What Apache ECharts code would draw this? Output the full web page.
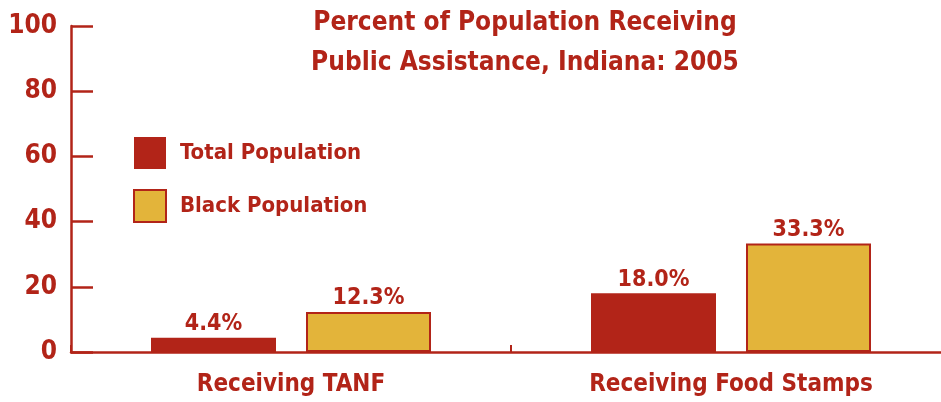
<!DOCTYPE html>
<html><head><meta charset="utf-8">
<script src="https://cdn.jsdelivr.net/npm/echarts@6/dist/echarts.min.js"></script>
<style>html,body{margin:0;padding:0;background:#fff}#c{width:941px;height:402px}</style>
</head><body><div id="c"></div>
<script>
const categories = ["Receiving TANF", "Receiving Food Stamps"];
const totalPopulation = [4.4, 18.0];
const blackPopulation = [12.3, 33.3];
const yTicks = [0, 20, 40, 60, 80, 100];

const RED = '#B22418', GOLD = '#E3B43A';
const FONT = '"Liberation Sans Narrow", "DejaVu Sans Condensed", sans-serif';
const chart = echarts.init(document.getElementById('c'));
const labelCfg = {show: true, position: 'top', distance: 2, color: RED, fontFamily: FONT, fontWeight: 'bold', fontSize: 23,
  formatter: p => p.value.toFixed(1) + '%'};
chart.setOption({
  animation: false,
  textStyle: {fontFamily: FONT},
  title: {text: 'Percent of Population Receiving\nPublic Assistance, Indiana: 2005', left: 520, textAlign: 'center', top: -2,
    textStyle: {color: RED, fontFamily: FONT, fontWeight: 'bold', fontSize: 26, lineHeight: 40}},
  legend: {left: 133, top: 137, orient: 'vertical', padding: 0, itemWidth: 32, itemHeight: 32, itemGap: 20, icon: 'rect',
    textStyle: {color: RED, fontFamily: FONT, fontWeight: 'bold', fontSize: 22, padding: [3, 0, 0, 9]},
    data: ['Total Population', 'Black Population']},
  grid: {left: 71, width: 880, top: 26, bottom: 50, containLabel: false, outerBoundsMode: 'none'},
  xAxis: {type: 'category', data: categories, boundaryGap: true,
    axisLine: {lineStyle: {color: RED, width: 2.5}},
    axisTick: {show: true, inside: true, length: 7, interval: 0, lineStyle: {color: RED, width: 2}},
    axisLabel: {color: RED, fontFamily: FONT, fontWeight: 'bold', fontSize: 24, margin: 21, interval: 0}},
  yAxis: {type: 'value', min: 0, max: 100, interval: 20,
    axisLine: {show: true, lineStyle: {color: RED, width: 2.5}},
    axisTick: {show: true, inside: true, length: 22, lineStyle: {color: RED, width: 2.5}},
    splitLine: {show: false},
    axisLabel: {color: RED, fontFamily: FONT, fontWeight: 'bold', fontSize: 26, margin: 14,
      formatter: v => yTicks.includes(v) ? String(v) : ''}},
  series: [
    {name: 'Total Population', type: 'bar', data: totalPopulation, barWidth: 125, barGap: '24%',
      itemStyle: {color: RED}, label: labelCfg},
    {name: 'Black Population', type: 'bar', data: blackPopulation, barWidth: 125,
      itemStyle: {color: GOLD, borderColor: RED, borderWidth: 2}, label: labelCfg}
  ]
});
</script></body></html>
